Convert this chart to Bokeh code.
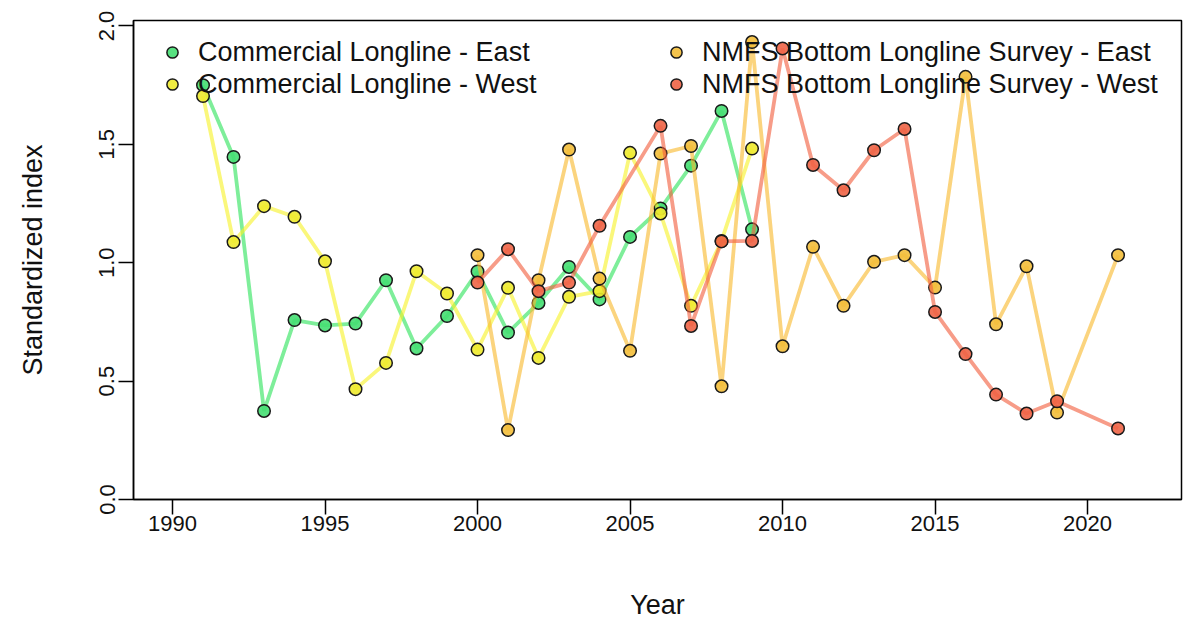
from bokeh.plotting import figure
from bokeh.models import Range1d, FixedTicker, PrintfTickFormatter, Legend, LegendItem
from bokeh.embed import file_html
from bokeh.resources import INLINE

# ---- data ----
ce_years = [1991, 1992, 1993, 1994, 1995, 1996, 1997, 1998, 1999, 2000,
            2001, 2002, 2003, 2004, 2005, 2006, 2007, 2008, 2009]
ce_vals = [1.75, 1.447, 0.374, 0.758, 0.735, 0.743, 0.926, 0.638, 0.775, 0.963,
           0.705, 0.830, 0.982, 0.845, 1.109, 1.229, 1.410, 1.641, 1.141]

cw_years = [1991, 1992, 1993, 1994, 1995, 1996, 1997, 1998, 1999, 2000,
            2001, 2002, 2003, 2004, 2005, 2006, 2007, 2008, 2009]
cw_vals = [1.704, 1.087, 1.239, 1.194, 1.006, 0.466, 0.577, 0.964, 0.870, 0.633,
           0.894, 0.598, 0.856, 0.880, 1.464, 1.208, 0.818, 1.092, 1.482]

ne_years = [2000, 2001, 2002, 2003, 2004, 2005, 2006, 2007, 2008, 2009, 2010,
            2011, 2012, 2013, 2014, 2015, 2016, 2017, 2018, 2019, 2021]
ne_vals = [1.032, 0.293, 0.926, 1.478, 0.933, 0.628, 1.461, 1.493, 0.478, 1.932, 0.647,
           1.067, 0.818, 1.004, 1.032, 0.895, 1.785, 0.740, 0.985, 0.367, 1.032]

nw_years = [2000, 2001, 2002, 2003, 2004, 2006, 2007, 2008, 2009, 2010,
            2011, 2012, 2013, 2014, 2015, 2016, 2017, 2018, 2019, 2021]
nw_vals = [0.916, 1.057, 0.880, 0.916, 1.156, 1.578, 0.733, 1.090, 1.092, 1.905,
           1.413, 1.306, 1.475, 1.565, 0.792, 0.614, 0.443, 0.363, 0.415, 0.300]

series_names = ["Commercial Longline - East", "Commercial Longline - West",
                "NMFS Bottom Longline Survey - East", "NMFS Bottom Longline Survey - West"]
x_ticks = [1990, 1995, 2000, 2005, 2010, 2015, 2020]
y_ticks = [0.0, 0.5, 1.0, 1.5, 2.0]

line_colors = ["#2FE35C", "#F7F22A", "#F8B92E", "#F2603F"]
fill_colors = ["#45DE72", "#EEEA2E", "#F3BE3A", "#EE6446"]

FONT = "Liberation Sans"

p = figure(width=1183, height=623, output_backend="svg", toolbar_location=None,
           x_range=Range1d(1988.721, 2023.08), y_range=Range1d(0, 2.023),
           frame_width=1048, frame_height=479,
           min_border_left=133, min_border_right=2, min_border_top=20, min_border_bottom=124)

p.xgrid.visible = False
p.ygrid.visible = False
p.outline_line_color = "black"
p.outline_line_width = 1.5
p.background_fill_color = "white"
p.border_fill_color = "white"

p.xaxis.ticker = FixedTicker(ticks=x_ticks)
p.yaxis.ticker = FixedTicker(ticks=y_ticks)
p.yaxis.formatter = PrintfTickFormatter(format="%.1f")
p.yaxis.major_label_orientation = "vertical"
for ax in (p.xaxis, p.yaxis):
    ax.axis_line_color = "black"
    ax.axis_line_width = 1.5
    ax.major_tick_line_color = "black"
    ax.major_tick_line_width = 1.5
    ax.major_tick_out = 15
    ax.major_tick_in = 0
    ax.minor_tick_out = 0
    ax.minor_tick_in = 0
    ax.major_label_text_font = FONT
    ax.major_label_text_font_size = "22px"
    ax.major_label_text_color = "#111111"
    ax.axis_label_text_font = FONT
    ax.axis_label_text_font_size = "27px"
    ax.axis_label_text_font_style = "normal"
    ax.axis_label_text_color = "#111111"

p.xaxis.axis_label = "Year"
p.yaxis.axis_label = "Standardized index"
p.xaxis.major_label_standoff = 1
p.xaxis.axis_label_standoff = 56
p.yaxis.major_label_standoff = 4
p.yaxis.axis_label_standoff = 49

all_years = [ce_years, cw_years, ne_years, nw_years]
all_vals = [ce_vals, cw_vals, ne_vals, nw_vals]

items = []
for name, yrs, vals, lc, fc in zip(series_names, all_years, all_vals, line_colors, fill_colors):
    p.line(yrs, vals, line_color=lc, line_width=3.8, line_alpha=0.62)
    r = p.scatter(yrs, vals, marker="circle", size=12.5, fill_color=fc, fill_alpha=0.9,
                  line_color="#1a1a1a", line_width=1.5)
    items.append(LegendItem(label=name, renderers=[r]))

legend = Legend(items=items, orientation="vertical", ncols=2,
                location=(25, 399), padding=0, margin=0, spacing=0,
                glyph_width=28, glyph_height=32, label_height=32, label_width=464,
                label_standoff=12, label_text_font=FONT, label_text_font_size="27px",
                label_text_color="#111111", background_fill_alpha=0,
                border_line_alpha=0, label_text_baseline="middle")
p.add_layout(legend, "center")

open("out.html", "w").write(file_html(p, INLINE))
